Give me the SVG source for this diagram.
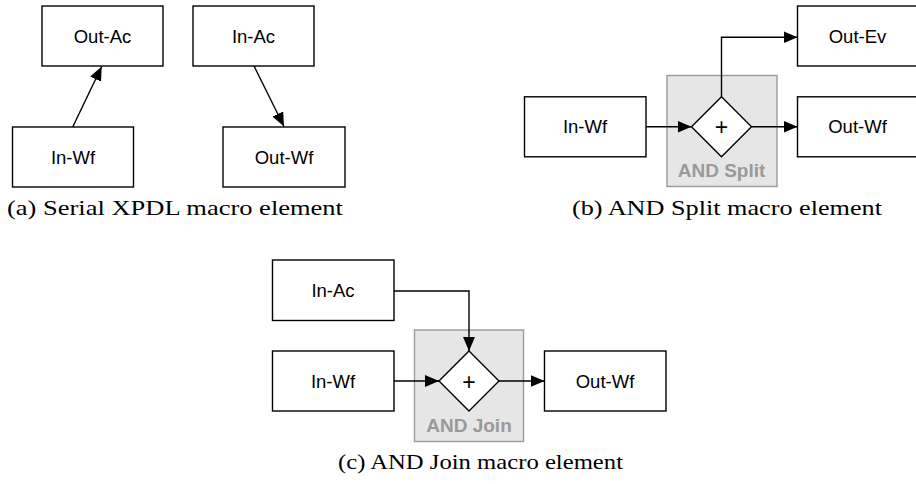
<svg xmlns="http://www.w3.org/2000/svg" width="916" height="484" viewBox="0 0 916 484">
<style>
.box{fill:#fff;stroke:#000;stroke-width:1.4}
.lbl{font-family:"Liberation Sans",Arial,sans-serif;font-size:18.5px;text-anchor:middle;fill:#000}
.plus{font-family:"Liberation Sans",Arial,sans-serif;font-size:23px;text-anchor:middle;fill:#000}
.grp{fill:#e6e6e6;stroke:#9a9a9a;stroke-width:1.4}
.gw{fill:#fff;stroke:#000;stroke-width:1.4}
.glbl{font-family:"Liberation Sans",Arial,sans-serif;font-size:19px;font-weight:bold;text-anchor:middle;fill:#999}
.cap{font-family:"Liberation Serif","Times New Roman",serif;font-size:21px;fill:#000}
.edge{fill:none;stroke:#000;stroke-width:1.4}
</style>
<defs>
<marker id="arr" markerUnits="userSpaceOnUse" markerWidth="15" markerHeight="13" refX="14" refY="6" orient="auto">
<path d="M0,0 L14,6 L0,12 z" fill="#000"/>
</marker>
</defs>
<rect width="916" height="484" fill="#fff"/>

<!-- (a) -->
<g id="a-out-ac"><rect class="box" x="42" y="6" width="121" height="60"/><text class="lbl" x="102.5" y="42.5">Out-Ac</text></g>
<g id="a-in-wf"><rect class="box" x="12.5" y="127" width="121" height="60"/><text class="lbl" x="73" y="163.5">In-Wf</text></g>
<g id="a-in-ac"><rect class="box" x="193" y="6" width="121" height="60"/><text class="lbl" x="253.5" y="42.5">In-Ac</text></g>
<g id="a-out-wf"><rect class="box" x="223" y="127" width="122" height="60"/><text class="lbl" x="284" y="163.5">Out-Wf</text></g>

<!-- (b) -->
<g id="b-gateway"><rect class="grp" x="667" y="75.5" width="110" height="111"/><path class="gw" d="M721.5,96.8 L751.5,126.8 L721.5,156.8 L691.5,126.8 z"/><text class="plus" x="721.5" y="135">+</text><text class="glbl" x="721.5" y="177">AND Split</text></g>
<g id="b-in-wf"><rect class="box" x="524.5" y="96.8" width="121.5" height="60"/><text class="lbl" x="585" y="133">In-Wf</text></g>
<g id="b-out-ev"><rect class="box" x="797.5" y="6" width="121" height="60"/><text class="lbl" x="857.5" y="42.5">Out-Ev</text></g>
<g id="b-out-wf"><rect class="box" x="797.5" y="96.8" width="121" height="60"/><text class="lbl" x="857.5" y="133">Out-Wf</text></g>

<!-- (c) -->
<g id="c-gateway"><rect class="grp" x="414.5" y="330" width="109" height="111.5"/><path class="gw" d="M469,351 L499,381 L469,411 L439,381 z"/><text class="plus" x="469" y="389.5">+</text><text class="glbl" x="469" y="432">AND Join</text></g>
<g id="c-in-ac"><rect class="box" x="272.5" y="260" width="121.5" height="60.5"/><text class="lbl" x="333" y="297">In-Ac</text></g>
<g id="c-in-wf"><rect class="box" x="272.5" y="351" width="121.5" height="60"/><text class="lbl" x="333" y="387.5">In-Wf</text></g>
<g id="c-out-wf"><rect class="box" x="544.5" y="351" width="121.5" height="60"/><text class="lbl" x="605" y="387.5">Out-Wf</text></g>

<g id="connectors">
<path class="edge" d="M72.7,127 L101.7,66.5" marker-end="url(#arr)"/>
<path class="edge" d="M254,66 L284,126.5" marker-end="url(#arr)"/>
<path class="edge" d="M646,126.8 L691.5,126.8" marker-end="url(#arr)"/>
<path class="edge" d="M751.5,126.8 L797.5,126.8" marker-end="url(#arr)"/>
<path class="edge" d="M721.5,96.8 L721.5,37.3 L797.5,37.3" marker-end="url(#arr)"/>
<path class="edge" d="M394,381 L439,381" marker-end="url(#arr)"/>
<path class="edge" d="M499,381 L544.5,381" marker-end="url(#arr)"/>
<path class="edge" d="M394,291 L469,291 L469,351" marker-end="url(#arr)"/>
</g>

<g id="captions">
<text class="cap" x="7" y="215" textLength="336" lengthAdjust="spacingAndGlyphs">(a) Serial XPDL macro element</text>
<text class="cap" x="572" y="215" textLength="310" lengthAdjust="spacingAndGlyphs">(b) AND Split macro element</text>
<text class="cap" x="338" y="469" textLength="285" lengthAdjust="spacingAndGlyphs">(c) AND Join macro element</text>
</g>
</svg>
